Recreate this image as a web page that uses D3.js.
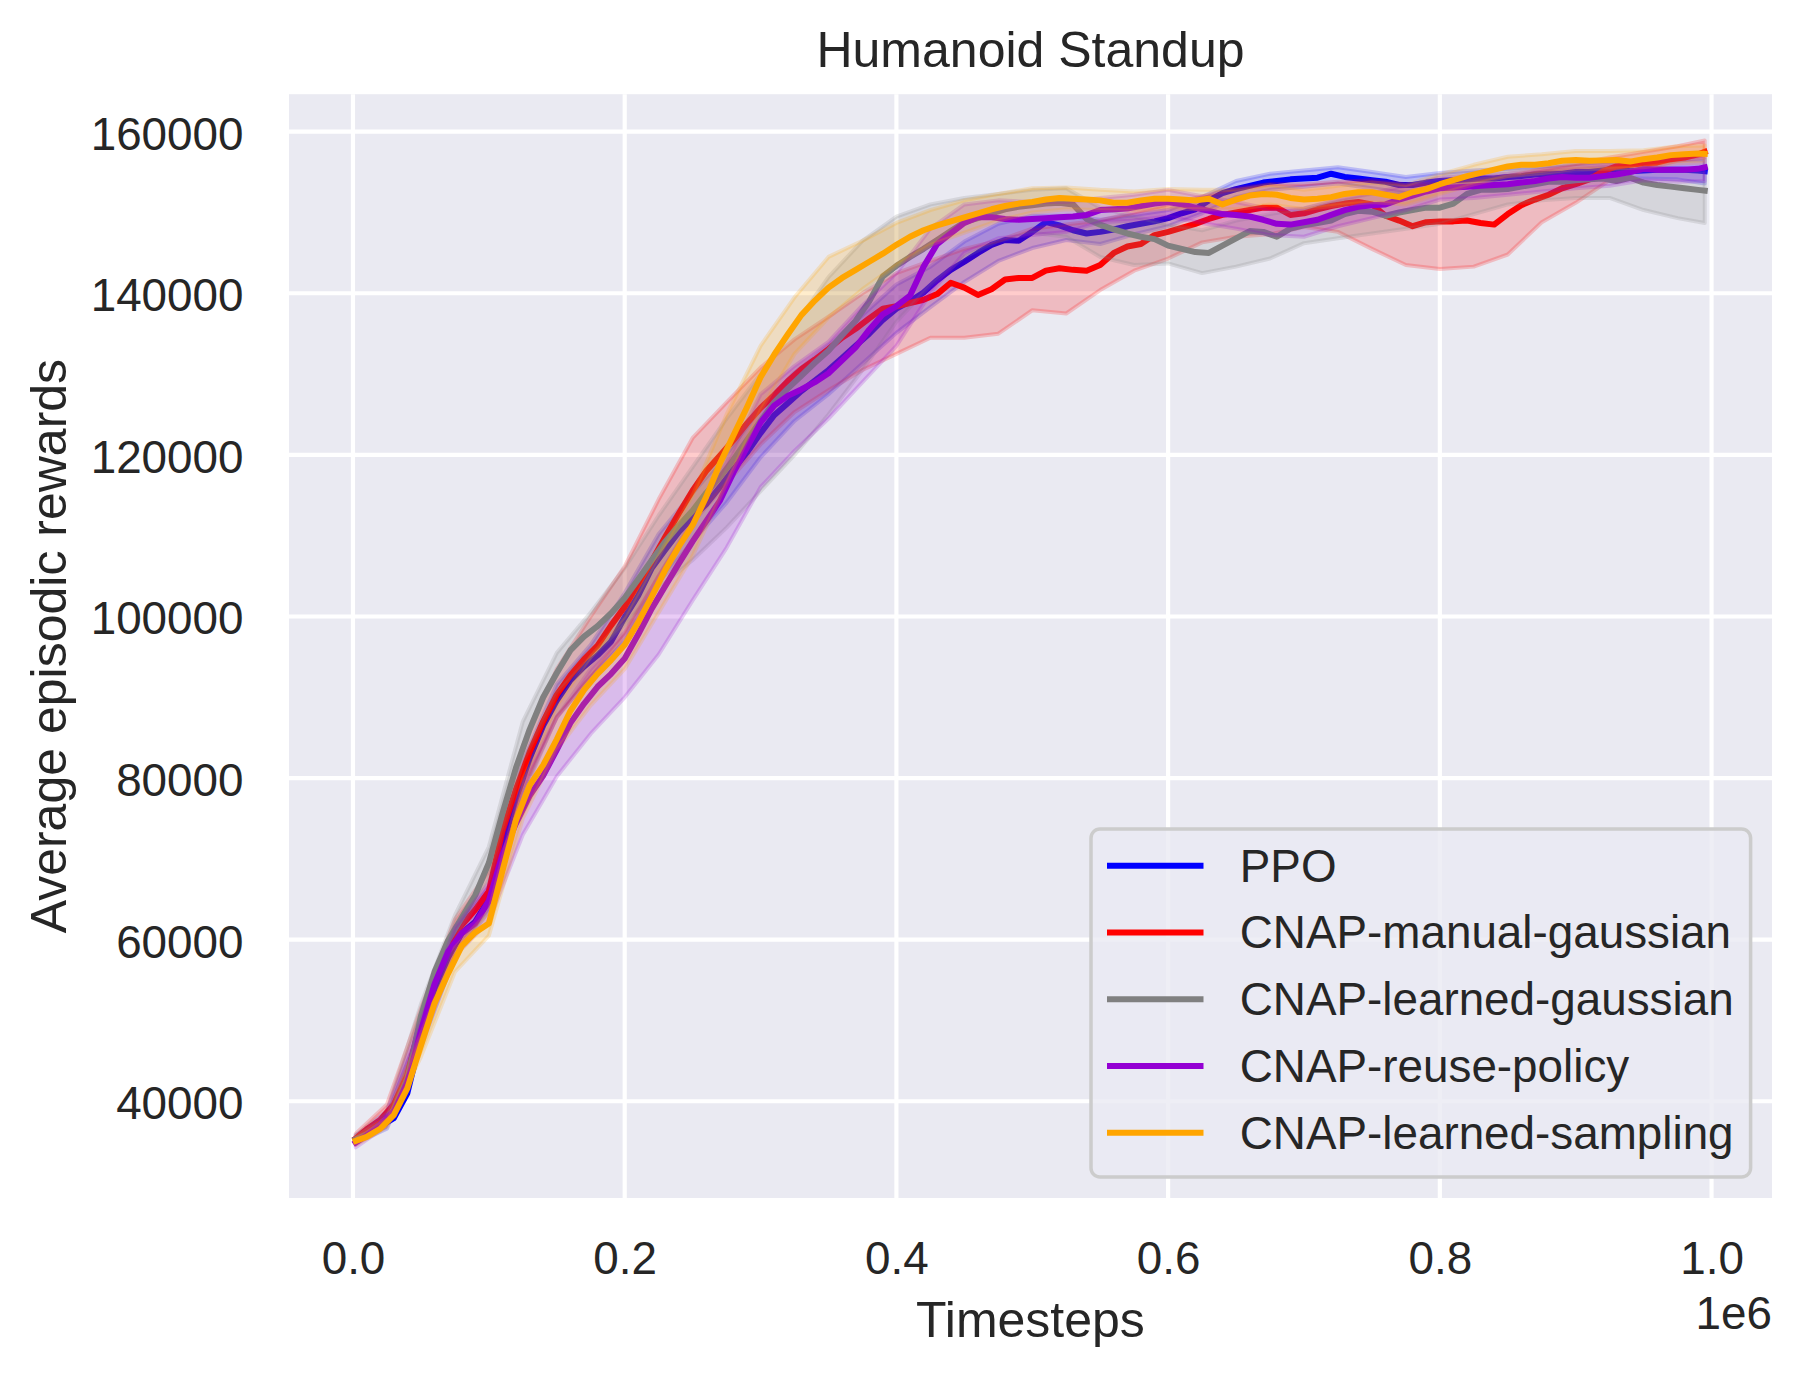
<!DOCTYPE html>
<html>
<head>
<meta charset="utf-8">
<script src="https://cdn.jsdelivr.net/npm/d3@7"></script>
<style>
  html, body { margin: 0; padding: 0; background: #ffffff; }
  svg { display: block; }
  text { font-family: "Liberation Sans", Arial, Helvetica, sans-serif; fill: #262626; }
</style>
</head>
<body>
<svg id="chart" width="1803" height="1375"></svg>
<script>
// ---------------- DATA ----------------
const seriesNames = ["PPO", "CNAP-manual-gaussian", "CNAP-learned-gaussian", "CNAP-reuse-policy", "CNAP-learned-sampling"];
const seriesColors = ["#0000ff", "#ff0000", "#808080", "#9400d3", "#ffa500"];

const timesteps = [2000, 10000, 20000, 30000, 40000, 50000, 60000, 70000, 80000, 90000,
  100000, 110000, 120000, 130000, 140000, 150000, 160000, 170000, 180000, 190000,
  200000, 210000, 220000, 230000, 240000, 250000, 260000, 270000, 280000, 290000,
  300000, 310000, 320000, 330000, 340000, 350000, 360000, 370000, 380000, 390000,
  400000, 410000, 420000, 430000, 440000, 450000, 460000, 470000, 480000, 490000,
  500000, 510000, 520000, 530000, 540000, 550000, 560000, 570000, 580000, 590000,
  600000, 610000, 620000, 630000, 640000, 650000, 660000, 670000, 680000, 690000,
  700000, 710000, 720000, 730000, 740000, 750000, 760000, 770000, 780000, 790000,
  800000, 810000, 820000, 830000, 840000, 850000, 860000, 870000, 880000, 890000,
  900000, 910000, 920000, 930000, 940000, 950000, 960000, 970000, 980000, 990000, 995000];

const ppoMean = [35300, 35900, 36900, 37900, 41000, 47900, 54000, 57800, 60800, 62200,
  65000, 71600, 77500, 82400, 86500, 89600, 92100, 93800, 95200, 96900,
  99900, 102600, 106000, 108300, 110500, 112300, 113900, 116000, 118200, 120300,
  122700, 124900, 126400, 127900, 129200, 130500, 132000, 133500, 135000, 136700,
  138100, 139000, 140100, 141600, 142900, 143900, 145000, 146000, 146600, 146500,
  147600, 148800, 148400, 147800, 147400, 147600, 147900, 148300, 148600, 148900,
  149300, 149900, 150400, 151500, 152400, 152900, 153300, 153700, 153900, 154100,
  154200, 154300, 154800, 154400, 154200, 154000, 153800, 153400, 153400, 153700,
  153900, 154000, 154100, 154200, 154200, 154400, 154500, 154700, 154800, 154800,
  155000, 155000, 155200, 155400, 155100, 155200, 155300, 155300, 155300, 155200, 155100];

const manualGaussianMean = [35400, 36500, 37700, 39600, 43200, 50000, 55000, 59300, 61800, 63700,
  66000, 73400, 78600, 83200, 87000, 90300, 92700, 94700, 96400, 98900,
  101200, 104000, 106900, 109900, 112800, 115600, 118000, 119900, 121800, 123900,
  125800, 127400, 129100, 130600, 131800, 133100, 134500, 135600, 136900, 138100,
  138400, 138800, 139200, 139900, 141300, 140700, 139800, 140500, 141700, 141900,
  141900, 142800, 143100, 142900, 142800, 143500, 145000, 145800, 146100, 147200,
  147600, 148100, 148600, 149200, 149700, 150000, 150300, 150600, 150600, 149700,
  149900, 150400, 150800, 151100, 151300, 151000, 149600, 149000, 148300, 148800,
  148900, 148900, 149000, 148700, 148500, 149800, 150900, 151600, 152200, 153000,
  153500, 154100, 155100, 155700, 155900, 156100, 156200, 156600, 156800, 157200, 157500];

const learnedGaussianMean = [35300, 35900, 37100, 38900, 42800, 50500, 56000, 59900, 62700, 65500,
  69500, 75600, 81300, 86000, 90000, 93000, 95800, 97500, 98800, 100400,
  102300, 104600, 107000, 109300, 111300, 113100, 115300, 117200, 119400, 121800,
  124200, 126500, 128200, 129800, 131400, 132900, 134800, 136600, 139000, 142100,
  143400, 144500, 145500, 146600, 147700, 148800, 149300, 149900, 150400, 150700,
  150900, 151100, 151200, 151000, 149200, 148500, 147900, 147400, 147000, 146700,
  145900, 145500, 145100, 145000, 145900, 146800, 147700, 147600, 147000, 148000,
  148400, 148700, 149000, 149800, 150200, 150100, 149600, 150000, 150300, 150600,
  150600, 151100, 152300, 152800, 152800, 152900, 153200, 153500, 153800, 153800,
  154000, 154100, 154200, 153900, 154300, 153700, 153400, 153200, 153000, 152800, 152700];

const reusePolicyMean = [34900, 35800, 37100, 38800, 42300, 48700, 54500, 58500, 60800, 62000,
  64800, 70500, 74400, 77800, 80300, 83500, 86800, 89200, 91300, 92900,
  94800, 97800, 101000, 103800, 106600, 109300, 111800, 114300, 117800, 120900,
  124000, 126100, 127300, 128100, 129000, 130100, 131700, 133300, 135500, 137400,
  138400, 139700, 143300, 146100, 147400, 148700, 149400, 149400, 149200, 149100,
  149200, 149300, 149400, 149500, 149700, 150300, 150400, 150500, 150800, 151100,
  151300, 151000, 150600, 150200, 149800, 149700, 149500, 149100, 148600, 148500,
  148800, 149100, 149700, 150300, 150700, 150900, 151000, 151600, 152100, 152600,
  153000, 153100, 153200, 153300, 153400, 153500, 153700, 153900, 154200, 154400,
  154300, 154300, 154500, 154700, 155000, 155400, 155300, 155300, 155300, 155400, 155600];

const learnedSamplingMean = [35100, 35600, 36600, 38300, 41600, 46900, 52100, 55800, 59200, 60900,
  62000, 68500, 74800, 79100, 81600, 84800, 88300, 90900, 92900, 94600,
  96500, 99300, 102500, 105800, 108700, 111300, 114800, 118900, 122400, 125900,
  129600, 132400, 134900, 137300, 139100, 140700, 141900, 142900, 143900, 144900,
  146000, 147000, 147800, 148400, 148900, 149400, 149900, 150400, 150800, 151100,
  151300, 151600, 151800, 151700, 151600, 151500, 151200, 151200, 151500, 151700,
  151700, 151600, 151500, 151700, 151000, 151600, 152100, 152300, 152200, 151800,
  151600, 151700, 151900, 152300, 152500, 152500, 152200, 151900, 152500, 152900,
  153500, 154000, 154500, 154900, 155300, 155700, 155900, 155900, 156100, 156400,
  156500, 156400, 156450, 156500, 156300, 156600, 156800, 157100, 157200, 157300, 157250];

// shaded bands (lower / upper edges)
const bandTimesteps = [2000, 25000, 50000, 75000, 100000, 125000, 150000, 175000, 200000, 225000,
  250000, 275000, 300000, 325000, 350000, 375000, 400000, 425000, 450000, 475000,
  500000, 525000, 550000, 575000, 600000, 625000, 650000, 675000, 700000, 725000,
  750000, 775000, 800000, 825000, 850000, 875000, 900000, 925000, 950000, 975000, 995000];

const ppoLower = [34800, 36600, 46700, 57900, 63500, 78000, 87600, 92500, 96900, 104200,
  109300, 114100, 119700, 124200, 127500, 131300, 135100, 138300, 141400, 144000,
  145600, 146600, 146100, 147300, 148300, 149900, 151900, 152800, 153200, 153600,
  153000, 152400, 152900, 153200, 153400, 153700, 154000, 154300, 154200, 154100, 153600];
const ppoUpper = [35800, 38200, 49100, 60900, 66500, 82000, 91600, 96500, 102900, 110200,
  115300, 120100, 125700, 130200, 133500, 137300, 141100, 143300, 146400, 148600,
  149600, 149600, 149100, 149700, 150300, 151900, 153900, 154800, 155200, 155600,
  155000, 154400, 154900, 155200, 155400, 155700, 156000, 156300, 156200, 156500, 156600];

const manualGaussianLower = [34800, 37600, 48500, 58700, 64000, 78500, 87500, 92500, 97700, 105000,
  111600, 116500, 121300, 125300, 128000, 130500, 132500, 134500, 134500, 135000,
  137900, 137500, 140400, 142800, 144300, 146300, 147000, 147300, 148200, 147600,
  145500, 143500, 143000, 143300, 144800, 148800, 151200, 154000, 155400, 156400, 156800];
const manualGaussianUpper = [36000, 39600, 51500, 62500, 68500, 84000, 93500, 100000, 106200, 114500,
  122100, 126500, 130800, 134300, 137100, 140000, 142500, 144000, 145500, 146500,
  148000, 148500, 149000, 150000, 151000, 152000, 153000, 153500, 153500, 153800,
  154000, 153500, 153500, 154000, 154500, 155300, 156000, 156800, 157500, 158200, 158900];

const learnedGaussianLower = [34800, 37200, 49000, 59800, 67500, 82000, 90500, 95000, 99000, 103500,
  107000, 111000, 115500, 120000, 125000, 130500, 136500, 141000, 144500, 146500,
  147500, 147000, 144500, 143500, 143700, 142500, 143300, 144300, 146200, 146800,
  147400, 148000, 148600, 149800, 151000, 151500, 151800, 151800, 150300, 149300, 148700];
const learnedGaussianUpper = [35800, 38800, 52000, 63000, 71500, 87000, 95500, 100500, 106000, 112500,
  118500, 124500, 130000, 136000, 142000, 146500, 149500, 151000, 151800, 152300,
  152800, 153000, 150600, 149500, 148500, 147800, 149000, 149800, 150500, 151500,
  152300, 152500, 153000, 154000, 154500, 154800, 155200, 155500, 155300, 155200, 155000];

const reusePolicyLower = [34300, 37000, 47000, 58000, 62300, 73000, 80200, 85500, 90000, 95300,
  102000, 108500, 116000, 120500, 124500, 129000, 133500, 140000, 145000, 146800,
  147200, 147600, 148800, 149000, 149500, 148700, 148000, 147200, 147000, 148300,
  149300, 150300, 151600, 151800, 152200, 152600, 153000, 153300, 154000, 153800, 153900];
const reusePolicyUpper = [35500, 38800, 50000, 61500, 67000, 79500, 87500, 93500, 98000, 105000,
  112000, 119000, 127500, 131000, 134000, 138500, 142500, 148000, 151000, 151500,
  151300, 151300, 151800, 152200, 152800, 152000, 151300, 150400, 150500, 151600,
  152400, 153300, 154300, 154600, 154800, 155300, 155600, 155900, 156600, 156700, 157000];

const learnedSamplingLower = [34600, 36800, 45500, 56000, 60500, 75000, 83500, 89000, 93500, 100500,
  107500, 116500, 125500, 132500, 137000, 140500, 143500, 146000, 147500, 149000,
  150000, 150400, 150300, 150200, 150500, 150400, 150400, 151000, 150400, 150900,
  151300, 151000, 152300, 153500, 154500, 154900, 155400, 155400, 155600, 156100, 156200];
const learnedSamplingUpper = [35600, 38000, 48300, 59000, 63500, 79800, 89000, 95000, 100000, 107500,
  115000, 125000, 133500, 139500, 144500, 146500, 148700, 150300, 151500, 152300,
  153000, 153100, 152800, 152600, 152900, 152800, 152800, 153400, 152800, 153300,
  153700, 153400, 154700, 155900, 156900, 157200, 157600, 157600, 157700, 158200, 158300];

const xTicks = [0, 200000, 400000, 600000, 800000, 1000000];
const xTickLabels = ["0.0", "0.2", "0.4", "0.6", "0.8", "1.0"];
const yTicks = [40000, 60000, 80000, 100000, 120000, 140000, 160000];
const yTickLabels = ["40000", "60000", "80000", "100000", "120000", "140000", "160000"];

const titleText = "Humanoid Standup";
const xLabelText = "Timesteps";
const yLabelText = "Average episodic rewards";
const offsetText = "1e6";

// ---------------- LAYOUT ----------------
const W = 1803, H = 1375;
const plot = { left: 289, right: 1772, top: 94.2, bottom: 1198 };
const xDomain = [-47100, 1044500];
const yDomain = [28030, 164640];
const tickFont = 45.8, labelFont = 50;
const bg = "#eaeaf2";

const svg = d3.select("#chart");
svg.append("rect").attr("width", W).attr("height", H).attr("fill", "#ffffff");

const x = d3.scaleLinear().domain(xDomain).range([plot.left, plot.right]);
const y = d3.scaleLinear().domain(yDomain).range([plot.bottom, plot.top]);

// plot background
svg.append("rect")
  .attr("x", plot.left).attr("y", plot.top)
  .attr("width", plot.right - plot.left).attr("height", plot.bottom - plot.top)
  .attr("fill", bg);

// gridlines
const grid = svg.append("g");
grid.selectAll("line.gx").data(xTicks).enter().append("line")
  .attr("x1", d => x(d)).attr("x2", d => x(d))
  .attr("y1", plot.top).attr("y2", plot.bottom)
  .attr("stroke", "#ffffff").attr("stroke-width", 4.17);
grid.selectAll("line.gy").data(yTicks).enter().append("line")
  .attr("y1", d => y(d)).attr("y2", d => y(d))
  .attr("x1", plot.left).attr("x2", plot.right)
  .attr("stroke", "#ffffff").attr("stroke-width", 4.17);

// clip
svg.append("defs").append("clipPath").attr("id", "clip")
  .append("rect")
  .attr("x", plot.left).attr("y", plot.top)
  .attr("width", plot.right - plot.left).attr("height", plot.bottom - plot.top);

const seriesList = [
  { name: seriesNames[0], color: seriesColors[0], mean: ppoMean, lower: ppoLower, upper: ppoUpper },
  { name: seriesNames[1], color: seriesColors[1], mean: manualGaussianMean, lower: manualGaussianLower, upper: manualGaussianUpper },
  { name: seriesNames[2], color: seriesColors[2], mean: learnedGaussianMean, lower: learnedGaussianLower, upper: learnedGaussianUpper },
  { name: seriesNames[3], color: seriesColors[3], mean: reusePolicyMean, lower: reusePolicyLower, upper: reusePolicyUpper },
  { name: seriesNames[4], color: seriesColors[4], mean: learnedSamplingMean, lower: learnedSamplingLower, upper: learnedSamplingUpper }
];

const dataG = svg.append("g").attr("clip-path", "url(#clip)");

const area = d3.area()
  .x(d => x(d.t)).y0(d => y(d.lo)).y1(d => y(d.hi));
const line = d3.line()
  .x(d => x(d.t)).y(d => y(d.v));

seriesList.forEach(s => {
  const bandData = bandTimesteps.map((t, i) => ({ t: t, lo: s.lower[i], hi: s.upper[i] }));
  const lineData = timesteps.map((t, i) => ({ t: t, v: s.mean[i] }));
  dataG.append("path").datum(bandData)
    .attr("d", area)
    .attr("fill", s.color).attr("fill-opacity", 0.2)
    .attr("stroke", s.color).attr("stroke-opacity", 0.2)
    .attr("stroke-width", 4).attr("stroke-linejoin", "round");
  dataG.append("path").datum(lineData)
    .attr("d", line)
    .attr("fill", "none")
    .attr("stroke", s.color).attr("stroke-width", 6)
    .attr("stroke-linejoin", "round").attr("stroke-linecap", "square");
});

// axes
const xAxis = d3.axisBottom(x).tickValues(xTicks)
  .tickFormat((d, i) => xTickLabels[i]).tickSize(0).tickPadding(43);
const gx = svg.append("g").attr("transform", `translate(0,${plot.bottom})`).call(xAxis);
gx.select(".domain").remove();
gx.selectAll("text").attr("font-size", tickFont).attr("fill", "#262626")
  .style("font-family", '"Liberation Sans", Arial, sans-serif');

const yAxis = d3.axisLeft(y).tickValues(yTicks)
  .tickFormat((d, i) => yTickLabels[i]).tickSize(0).tickPadding(45.5);
const gy = svg.append("g").attr("transform", `translate(${plot.left},0)`).call(yAxis);
gy.select(".domain").remove();
gy.selectAll("text").attr("font-size", tickFont).attr("fill", "#262626")
  .attr("dy", "0.38em")
  .style("font-family", '"Liberation Sans", Arial, sans-serif');

const cx = (plot.left + plot.right) / 2;
// title
svg.append("text").attr("x", cx).attr("y", 67)
  .attr("text-anchor", "middle").attr("font-size", labelFont).text(titleText);
// x label
svg.append("text").attr("x", cx).attr("y", 1337)
  .attr("text-anchor", "middle").attr("font-size", labelFont).text(xLabelText);
// offset text
svg.append("text").attr("x", plot.right).attr("y", 1329)
  .attr("text-anchor", "end").attr("font-size", tickFont).text(offsetText);
// y label
svg.append("text")
  .attr("transform", `translate(66,${(plot.top + plot.bottom) / 2}) rotate(-90)`)
  .attr("text-anchor", "middle").attr("font-size", labelFont).text(yLabelText);

// legend
const legend = { x: 1091, y: 829, w: 659.6, h: 348, firstRow: 865.7, rowGap: 66.75 };
const lg = svg.append("g");
lg.append("rect")
  .attr("x", legend.x).attr("y", legend.y).attr("width", legend.w).attr("height", legend.h)
  .attr("rx", 9).attr("ry", 9)
  .attr("fill", bg).attr("fill-opacity", 0.8)
  .attr("stroke", "#cccccc").attr("stroke-width", 3.5);
seriesList.forEach((s, i) => {
  const ry = legend.firstRow + i * legend.rowGap;
  lg.append("line")
    .attr("x1", 1110).attr("x2", 1200.5).attr("y1", ry).attr("y2", ry)
    .attr("stroke", s.color).attr("stroke-width", 6).attr("stroke-linecap", "square");
  lg.append("text").attr("x", 1239.8).attr("y", ry + 15.8)
    .attr("font-size", tickFont).text(s.name);
});
</script>
</body>
</html>
